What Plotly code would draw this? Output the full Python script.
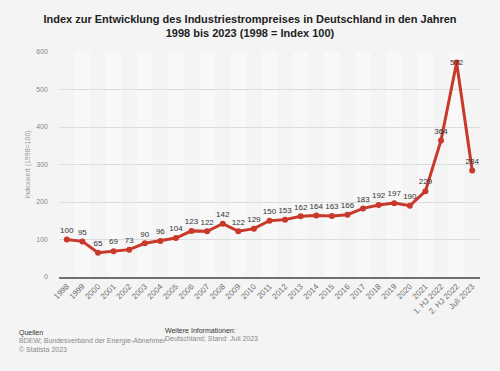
import plotly.graph_objects as go

categories = ["1998", "1999", "2000", "2001", "2002", "2003", "2004", "2005", "2006",
              "2007", "2008", "2009", "2010", "2011", "2012", "2013", "2014", "2015",
              "2016", "2017", "2018", "2019", "2020", "2021", "1. HJ 2022", "2. HJ 2022",
              "Juli 2023"]
values = [100, 95, 65, 69, 73, 90, 96, 104, 123, 122, 142, 122, 129, 150, 153, 162,
          164, 163, 166, 183, 192, 197, 190, 229, 364, 572, 284]
y_ticks = [0, 100, 200, 300, 400, 500, 600]

title = "<b>Index zur Entwicklung des Industriestrompreises in Deutschland in den Jahren<br>1998 bis 2023 (1998 = Index 100)</b>"
FONT = "Liberation Sans, Arial, sans-serif"
RED = "#c8392b"
W, H = 500, 371
ML, MR, MT, MB = 59, 20, 52, 94

positions = ["top center"] * len(values)
positions[values.index(max(values))] = "middle center"

fig = go.Figure()
fig.add_trace(go.Scatter(
    x=categories, y=values, mode="lines+markers+text",
    line=dict(color=RED, width=3),
    marker=dict(color=RED, size=6),
    text=[str(v) for v in values], textposition=positions,
    textfont=dict(family=FONT, size=8, color="#333333"),
    cliponaxis=False, hoverinfo="x+y",
))

# alternating lighter column bands
shapes = []
for i in range(1, len(categories), 2):
    shapes.append(dict(type="rect", xref="x", yref="paper", x0=i - 0.5, x1=i + 0.5,
                       y0=0, y1=1, fillcolor="#f8f8f8", line=dict(width=0), layer="below"))

fig.update_layout(
    width=W, height=H,
    paper_bgcolor="#f4f4f4", plot_bgcolor="#f4f4f4",
    margin=dict(l=ML, r=MR, t=MT, b=MB),
    showlegend=False,
    shapes=shapes,
    title=dict(text=title, x=0.5, xanchor="center", yref="container",
               y=1 - 23 / H, yanchor="middle",
               font=dict(family=FONT, size=11, color="#222222")),
    font=dict(family=FONT),
)
fig.update_xaxes(
    type="category", tickangle=-45, tickfont=dict(size=8, color="#707070"),
    showgrid=False, showline=True, linecolor="#707070", linewidth=1.5,
    ticks="", range=[-0.5, len(categories) - 0.5],
)
fig.update_yaxes(
    range=[0, 600], tickvals=y_ticks, tickfont=dict(size=7, color="#8a8a8a"),
    showgrid=True, gridcolor="#dcdcdc", gridwidth=1, zeroline=False,
    ticklabelstandoff=10,
    title=dict(text="Indexwert (1998=100)", font=dict(size=7, color="#9a9a9a"), standoff=4),
)

# footer texts (pixel positions converted to paper coordinates)
notes = [
    dict(text="Quellen", x=17, y=333, color="#333333"),
    dict(text="BDEW; Bundesverband der Energie-Abnehmer", x=17, y=341, color="#8a8a8a"),
    dict(text="© Statista 2023", x=17, y=349, color="#8a8a8a"),
    dict(text="Weitere Informationen:", x=163, y=330, color="#333333"),
    dict(text="Deutschland; Stand: Juli 2023", x=163, y=338, color="#8a8a8a"),
]
for n in notes:
    fig.add_annotation(
        text=n["text"], xref="paper", yref="paper",
        x=(n["x"] - ML) / (W - ML - MR), y=(H - MB - n["y"]) / (H - MT - MB),
        xanchor="left", yanchor="middle", showarrow=False,
        font=dict(family=FONT, size=7, color=n["color"]),
    )

fig.write_html("out.html", config={"displayModeBar": False},
               post_script="document.body.style.margin='0';")
